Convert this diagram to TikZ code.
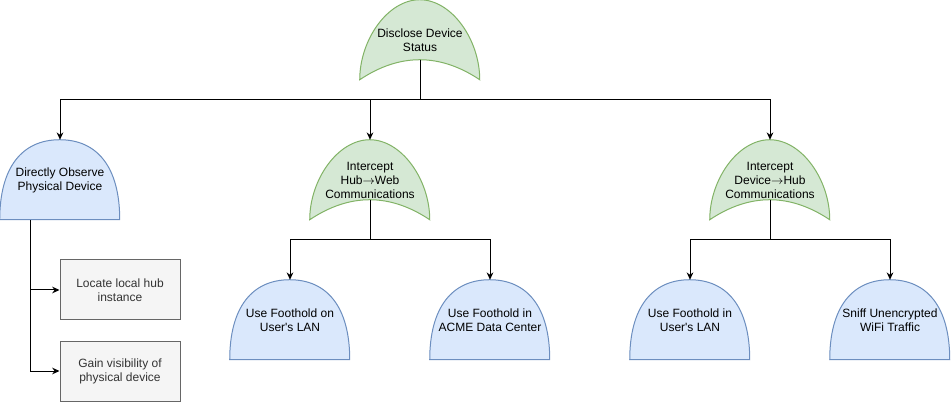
\documentclass[tikz,border=0pt]{standalone}
\usepackage{fontspec}
\setmainfont{Liberation Sans}[Ligatures=TeXOff]
\usetikzlibrary{positioning,arrows.meta,backgrounds}
\definecolor{orfill}{HTML}{D5E8D4}
\definecolor{orline}{HTML}{82B366}
\definecolor{andfill}{HTML}{DAE8FC}
\definecolor{andline}{HTML}{6C8EBF}
\definecolor{leaffill}{HTML}{F5F5F5}
\definecolor{leafline}{HTML}{666666}
\definecolor{leaftext}{HTML}{333333}
\begin{document}
\begin{tikzpicture}[
x=0.75pt, y=-0.75pt,
node distance = 15pt and 15pt,
gate/.style={rectangle, draw=none, inner sep=0pt, minimum width=90pt, minimum height=60pt, align=center, font=\fontsize{9}{10.5}\selectfont},
leaf/.style={rectangle, draw=leafline, fill=leaffill, line width=0.75pt, inner sep=0pt, minimum width=90pt, minimum height=45pt, align=center, text=leaftext, font=\fontsize{9}{10.5}\selectfont},
orshape/.style={draw=orline, fill=orfill, line width=0.75pt},
andshape/.style={draw=andline, fill=andfill, line width=0.75pt},
link/.style={-{Stealth[length=5.5pt,width=5pt]}, line width=0.75pt}]

\useasboundingbox (0,0) rectangle (952,402);

\node[gate] (disclose) at (420,40) {Disclose Device\\Status};
\node[gate] (observe) at (60,180) {Directly Observe\\Physical Device};
\node[gate] (hubweb) at (370,180) {Intercept\\Hub$\rightarrow$Web\\Communications};
\node[gate] (devhub) at (770,180) {Intercept\\Device$\rightarrow$Hub\\Communications};

\node[leaf] (locate) at (120,290) {Locate local hub\\instance};
\node[leaf] (gain) [below = of locate] {Gain visibility of\\physical device};

\node[gate] (lanon) at (290,320) {Use Foothold on\\User's LAN};
\node[gate] (acme) at (490,320) {Use Foothold in\\ACME Data Center};
\node[gate] (lanin) at (690,320) {Use Foothold in\\User's LAN};
\node[gate] (sniff) at (890,320) {Sniff Unencrypted\\WiFi Traffic};

% gate outlines behind the texts
\begin{scope}[on background layer]
\foreach \n in {disclose,hubweb,devhub}
  \draw[orshape, shift={(\n.north west)}] (0,80) .. controls (0,40) and (28,0) .. (60,0)
    .. controls (92,0) and (120,40) .. (120,80)
    .. controls (80,53.33) and (40,53.33) .. (0,80) -- cycle;
\foreach \n in {observe,lanon,acme,lanin,sniff}
  \draw[andshape, shift={(\n.north west)}] (0,80) .. controls (0,28) and (22,0) .. (60,0)
    .. controls (98,0) and (120,28) .. (120,80) -- cycle;
\end{scope}

\coordinate (disclose-b) at ([yshift=-15pt]disclose.center);
\coordinate (hubweb-b) at ([yshift=-15pt]hubweb.center);
\coordinate (devhub-b) at ([yshift=-15pt]devhub.center);
\coordinate (observe-b) at ([xshift=-22.5pt]observe.south);

\draw[link] (disclose-b) -- ++(0,40) -| (observe);
\draw[link] (disclose-b) -- ++(0,40) -| (hubweb);
\draw[link] (disclose-b) -- ++(0,40) -| (devhub);

\draw[link] (observe-b) |- (locate);
\draw[link] (observe-b) |- (gain);

\draw[link] (hubweb-b) -- ++(0,40) -| (lanon);
\draw[link] (hubweb-b) -- ++(0,40) -| (acme);

\draw[link] (devhub-b) -- ++(0,40) -| (lanin);
\draw[link] (devhub-b) -- ++(0,40) -| (sniff);
\end{tikzpicture}
\end{document}
